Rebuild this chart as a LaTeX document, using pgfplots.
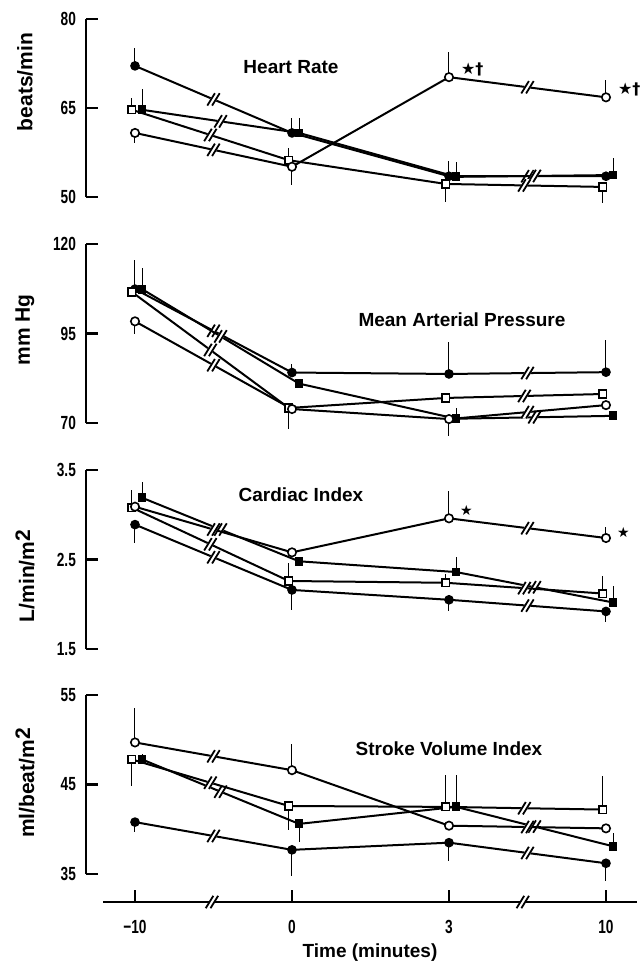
\documentclass[border=0pt]{standalone}
\usepackage{fontspec}
\setmainfont{Liberation Sans}
\newfontfamily\sym{DejaVu Sans}
\usepackage{pgfplots}
\usepackage{pgfplotstable}
\pgfplotsset{compat=1.18}
\usetikzlibrary{calc,decorations.pathreplacing}

% a = filled circle, b = filled square, c = open circle, d = open square
% p / m = error bar up / down
\pgfplotstableread{
x a    ap  am  b    bp  bm  c    cp  cm  d    dp  dm
0 72.1 3.0 0   64.7 3.5 0   60.8 0   1.7 64.7 2.0 0
1 60.8 2.5 0   60.8 2.5 0   55.1 0   3.0 56.2 2.0 0
2 53.5 2.5 0   53.4 2.5 0   70.2 4.2 0   52.2 0   3.0
3 53.5 0   0   53.7 2.9 0   66.8 2.9 0   51.7 0   2.7
}\tHR
\pgfplotstableread{
x a     ap  am  b     bp  bm  c    cp  cm  d     dp  dm
0 107.4 8.0 0   107.4 6.0 0   98.4 0   3.5 106.6 0   1.5
1 84.1  2.5 0   81.0  0   0   73.9 0   0   74.2  0   6.0
2 83.7  9.0 0   71.2  3.0 0   71.1 0   4.7 77.0  0   0
3 84.2  9.0 0   72.0  0   0   75.0 0   0   78.1  0   1.5
}\tMAP
\pgfplotstableread{
x a    ap  am   b    bp   bm  c    cp   cm  d    dp   dm
0 2.89 0   0.20 3.19 0.18 0   3.09 0    0   3.08 0.20 0
1 2.16 0   0.22 2.48 0    0   2.58 0    0   2.26 0.20 0
2 2.05 0   0.12 2.36 0.17 0   2.96 0.30 0   2.24 0.10 0
3 1.92 0   0.12 2.02 0.18 0   2.74 0.12 0   2.12 0.20 0
}\tCI
\pgfplotstableread{
x a    ap  am  b    bp  bm  c    cp  cm  d    dp  dm
0 40.8 0   1.1 47.8 0.6 0   49.7 3.8 0   47.8 0   3.0
1 37.7 0   2.9 40.6 0   2.0 46.6 2.9 0   42.6 0   2.7
2 38.5 0   2.1 42.5 3.6 0   40.4 0   0   42.5 3.6 0
3 36.2 0   2.0 38.1 1.5 0   40.1 0   0   42.2 3.7 0
}\tSVI

\newcount\segn
\newcommand\brkat[1]{%
  \coordinate (bm) at (#1);
  \fill[white] ($(bm)+(-2.6pt,-2.6pt)$) -- ($(bm)+(-0.4pt,-2.6pt)$) -- ($(bm)+(2.6pt,2.6pt)$) -- ($(bm)+(0.4pt,2.6pt)$) -- cycle;
  \draw[black,line width=0.9pt] ($(bm)+(-3.1pt,-3.1pt)$) -- ($(bm)+(0.7pt,3.1pt)$);
  \draw[black,line width=0.9pt] ($(bm)+(-0.7pt,-3.1pt)$) -- ($(bm)+(3.1pt,3.1pt)$);}
\newcommand\brkmark{\brkat{$(\tikzinputsegmentfirst)!0.5!(\tikzinputsegmentlast)$}}

\tikzset{brk/.style={postaction={decorate,decoration={show path construction,
   moveto code={\global\segn=0 },
   lineto code={\global\advance\segn by 1 \ifnum\segn=1 \brkmark\fi\ifnum\segn=3 \brkmark\fi}}}}}

\pgfplotsset{
  panel/.style={scale only axis, width=275.5pt, xmin=-0.3121, xmax=3.1975,
    axis x line=none, axis y line*=left, axis line style={-, line width=1.3pt},
    major tick length=0pt,
    yticklabel style={font=\bfseries\fontsize{9.5}{10}\selectfont, xscale=0.72, anchor=east, xshift=-3.5pt},
    clip=false, anchor=south west},
  ln/.style={black, line width=1pt, no marks, brk},
  eb/.style={error bars/.cd, y dir=both, y explicit, error mark=none,
    error bar style={line width=0.5pt, black}},
  mA/.style={only marks, mark=*, mark size=2.1pt, mark options={fill=black, draw=black, line width=0.6pt}, eb},
  mB/.style={only marks, mark=square*, mark size=1.9pt, mark options={fill=black, draw=black, line width=0.6pt}, eb},
  mC/.style={only marks, mark=*, mark size=2.1pt, mark options={fill=white, draw=black, line width=0.8pt}, eb},
  mD/.style={only marks, mark=square*, mark size=1.9pt, mark options={fill=white, draw=black, line width=0.8pt}, eb},
}
\newcommand\series[1]{%
  \addplot[ln] table[x=x, y=a] {#1};
  \addplot[ln] table[x expr=\thisrow{x}+0.045, y=b] {#1};
  \addplot[ln] table[x=x, y=c] {#1};
  \addplot[ln] table[x expr=\thisrow{x}-0.02, y=d] {#1};
  \addplot[mA] table[x=x, y=a, y error plus=ap, y error minus=am] {#1};
  \addplot[mB] table[x expr=\thisrow{x}+0.045, y=b, y error plus=bp, y error minus=bm] {#1};
  \addplot[mD] table[x expr=\thisrow{x}-0.02, y=d, y error plus=dp, y error minus=dm] {#1};
  \addplot[mC] table[x=x, y=c, y error plus=cp, y error minus=cm] {#1};
}

\begin{document}
\begin{tikzpicture}
\tikzset{lab/.style={font=\bfseries\fontsize{10.5}{12}\selectfont, rotate=90},
         ttl/.style={font=\bfseries\fontsize{9.5}{11}\selectfont},
         ann/.style={anchor=west, font=\sym\bfseries\fontsize{8}{9}\selectfont}}

% Heart rate
\begin{axis}[panel, height=89pt, at={(43pt,-98.5pt)}, ymin=50, ymax=80,
  ytick={50,65,80}, yticklabels={50,65,80}]
\series{\tHR}
\node[ann, xshift=2.5pt, yshift=4pt] at (axis cs:2,70.2) {★†};
\node[ann, xshift=2.5pt, yshift=4pt] at (axis cs:3,66.8) {★†};
\end{axis}

% Mean arterial pressure
\begin{axis}[panel, height=89.5pt, at={(43pt,-211.5pt)}, ymin=70, ymax=120,
  ytick={70,95,120}, yticklabels={70,95,120}]
\series{\tMAP}
\end{axis}

% Cardiac index
\begin{axis}[panel, height=89.5pt, at={(43pt,-324.5pt)}, ymin=1.5, ymax=3.5,
  ytick={1.5,2.5,3.5}, yticklabels={1.5,2.5,3.5}]
\series{\tCI}
\node[ann, font=\sym\bfseries\fontsize{7}{8}\selectfont, xshift=2pt, yshift=4pt] at (axis cs:2,2.96) {★};
\node[ann, font=\sym\bfseries\fontsize{7}{8}\selectfont, xshift=2pt, yshift=3pt] at (axis cs:3,2.74) {★};
\end{axis}

% Stroke volume index
\begin{axis}[panel, height=89.5pt, at={(43pt,-437pt)}, ymin=35, ymax=55,
  ytick={35,45,55}, yticklabels={35,45,55}]
\series{\tSVI}
\end{axis}

% shared time axis
\begin{axis}[scale only axis, width=267pt, height=10pt, at={(51.5pt,-451pt)}, anchor=south west,
  xmin=-0.2038, xmax=3.1975, ymin=0, ymax=1,
  axis x line=bottom, axis y line=none, axis line style={-, line width=1.3pt},
  xtick={0,1,2,3}, xticklabels={−10,0,3,10},
  tick align=inside, major tick length=6pt, xtick style={line width=1pt, black},
  xticklabel style={font=\bfseries\fontsize{9.5}{10}\selectfont, xscale=0.72, yshift=-5.5pt},
  clip=false]
\brkat{axis cs:0.49,0}
\brkat{axis cs:2.47,0}
\end{axis}

% short ticks at the ends and middle of each left spine, pointing inward
\foreach \yy in {-9.5,-54,-98.5,-122,-166.75,-211.5,-235,-279.75,-324.5,-347.5,-392.25,-437}
  \draw[black, line width=1.3pt] (43pt,\yy pt) -- ++(6pt,0pt);

\node[lab] at (12.5pt,-41pt) {beats/min};
\node[lab] at (12.5pt,-165pt) {mm Hg};
\node[lab] at (12.5pt,-288pt) {L/min/m\raisebox{0.35ex}{2}};
\node[lab] at (12.5pt,-391.5pt) {ml/beat/m\raisebox{0.35ex}{2}};

\node[ttl] at (145.5pt,-33.5pt) {Heart Rate};
\node[ttl] at (231pt,-160pt) {Mean Arterial Pressure};
\node[ttl] at (150.5pt,-247.5pt) {Cardiac Index};
\node[ttl] at (224.5pt,-374.5pt) {Stroke Volume Index};
\node[font=\bfseries\fontsize{9.5}{11}\selectfont] at (185pt,-476.5pt) {Time (minutes)};

\pgfresetboundingbox
\path[use as bounding box] (0,0) rectangle (320pt,-483pt);
\end{tikzpicture}
\end{document}
